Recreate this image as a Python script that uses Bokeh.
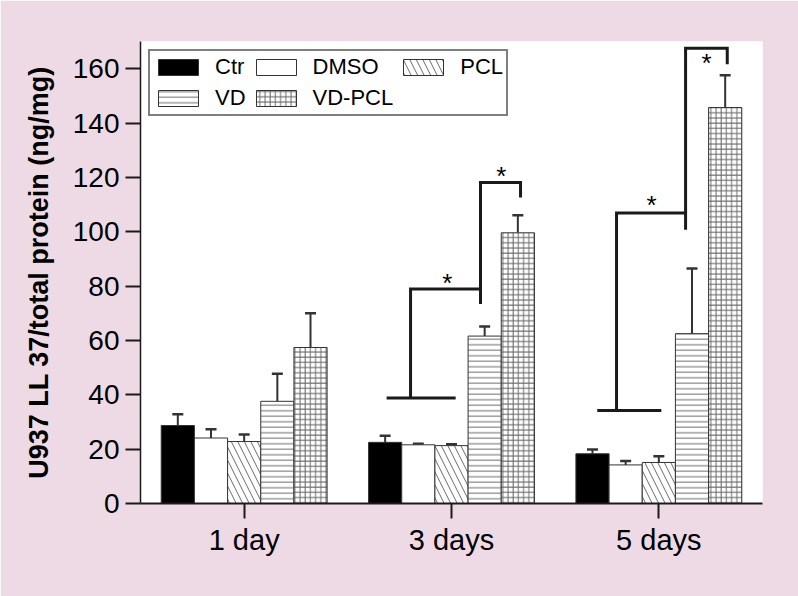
from bokeh.plotting import figure
from bokeh.models import (FactorRange, Range1d, ColumnDataSource, Whisker, TeeHead,
                          Legend, LegendItem, FixedTicker)
from bokeh.transform import dodge
from bokeh.core.properties import value
from bokeh.embed import file_html
from bokeh.resources import INLINE

# ---------------- data ----------------
days = ["1 day", "3 days", "5 days"]
groups = ["Ctr", "DMSO", "PCL", "VD", "VD-PCL"]

ctr = [28.7, 22.5, 18.3]
dmso = [24.1, 21.6, 14.2]
pcl = [22.8, 21.3, 15.1]
vd = [37.6, 61.6, 62.5]
vd_pcl = [57.4, 99.6, 145.7]

ctr_err = [4.1, 2.4, 1.6]
dmso_err = [3.2, 0.4, 1.4]
pcl_err = [2.6, 0.5, 2.3]
vd_err = [10.1, 3.5, 24.0]
vd_pcl_err = [12.6, 6.5, 11.9]

y_ticks = [0, 20, 40, 60, 80, 100, 120, 140, 160]

# significance brackets: (day, x offsets, y values)
bracket_bases = [("3 days", [-0.313, 0.02], [38.8, 38.8]),
                 ("5 days", [-0.297, 0.012], [34.2, 34.2])]
bracket_steps = [("3 days", [-0.1975, -0.1975, 0.14, 0.14], [38.8, 78.9, 78.9, 73.4]),
                 ("3 days", [0.14, 0.14, 0.333, 0.333], [78.9, 118.1, 118.1, 112.6]),
                 ("5 days", [-0.204, -0.204, 0.129, 0.129], [34.2, 106.9, 106.9, 100.7]),
                 ("5 days", [0.129, 0.129, 0.33, 0.33], [106.9, 167.5, 167.5, 161.6])]
star_days = ["3 days", "3 days", "5 days", "5 days"]
star_offsets = [-0.02, 0.24, -0.035, 0.23]
star_y = [83.0, 122.5, 111.8, 164.0]

# ---------------- styles ----------------
FONT = "Liberation Sans"
BG = "#EEDAE4"
values_all = [ctr, dmso, pcl, vd, vd_pcl]
errs_all = [ctr_err, dmso_err, pcl_err, vd_err, vd_pcl_err]
fills = ["black", "white", "white", "white", "white"]
hatches = [None, None, "\\", "-", "+"]
hatch_scales = [12, 12, 13, 5.5, 5.2]
BAR_W = 0.16

p = figure(x_range=FactorRange(*days), y_range=Range1d(0, 170),
           width=798, height=596, output_backend="svg", toolbar_location=None,
           min_border_left=140, min_border_right=36, min_border_top=41,
           min_border_bottom=93, background_fill_color="white",
           border_fill_color=BG, outline_line_color=None)
p.xgrid.visible = False
p.ygrid.visible = False

items = []
for i, (name, vals, errs) in enumerate(zip(groups, values_all, errs_all)):
    off = (i - 2) * BAR_W
    src = ColumnDataSource(dict(day=days, val=vals,
                                hi=[v + e for v, e in zip(vals, errs)]))
    kw = {}
    if hatches[i]:
        kw = dict(hatch_pattern=hatches[i], hatch_color="#6a6a6a",
                  hatch_scale=hatch_scales[i], hatch_weight=1)
    r = p.vbar(x=dodge("day", off, range=p.x_range), top="val", width=BAR_W,
               source=src, fill_color=fills[i], line_color="#333333",
               line_width=1, **kw)
    w = Whisker(base=dodge("day", off, range=p.x_range), lower="val", upper="hi",
                source=src, line_color="#333333", line_width=2,
                upper_head=TeeHead(size=11, line_width=2.5, line_color="#333333"),
                lower_head=None)
    p.add_layout(w)
    items.append(LegendItem(label=name, renderers=[r]))

for day, offs, ys in bracket_bases + bracket_steps:
    p.line(x=[(day, o) for o in offs], y=ys, line_color="#1a1a1a",
           line_width=3, line_join="miter")

p.text(x=[(d, o) for d, o in zip(star_days, star_offsets)], y=star_y,
       text=["*"] * len(star_y), text_font=value(FONT), text_font_size="26px",
       text_align="center", text_baseline="middle", y_offset=5,
       text_color="black")

legend = Legend(items=items, location="top_left", orientation="horizontal",
                ncols=3, border_line_color="black", border_line_width=2,
                background_fill_color="white", background_fill_alpha=1,
                label_text_font=FONT, label_text_font_size="22px",
                label_text_color="black",
                glyph_width=50, glyph_height=20, label_height=20,
                label_standoff=12, spacing=5, padding=3, margin=8)
p.add_layout(legend)

# axes
p.yaxis.ticker = FixedTicker(ticks=y_ticks)
p.yaxis.axis_label = "U937 LL 37/total protein (ng/mg)"
p.yaxis.axis_label_text_font = FONT
p.yaxis.axis_label_text_font_style = "bold"
p.yaxis.axis_label_text_font_size = "27px"
p.yaxis.axis_label_text_color = "black"
p.yaxis.axis_label_standoff = 16
p.yaxis.major_label_text_font_size = "28px"
p.yaxis.major_label_standoff = 6
p.yaxis.axis_line_width = 1.5

p.xaxis.major_label_text_font_size = "29px"
p.xaxis.major_label_standoff = 5
p.xaxis.axis_line_width = 2

for ax in (p.xaxis, p.yaxis):
    ax.major_label_text_font = FONT
    ax.major_label_text_color = "black"
    ax.axis_line_color = "#1a1a1a"
    ax.major_tick_line_color = "#1a1a1a"
    ax.major_tick_line_width = 2
    ax.major_tick_out = 15
    ax.major_tick_in = 0
    ax.minor_tick_line_color = None

open("out.html", "w").write(file_html(p, INLINE))
